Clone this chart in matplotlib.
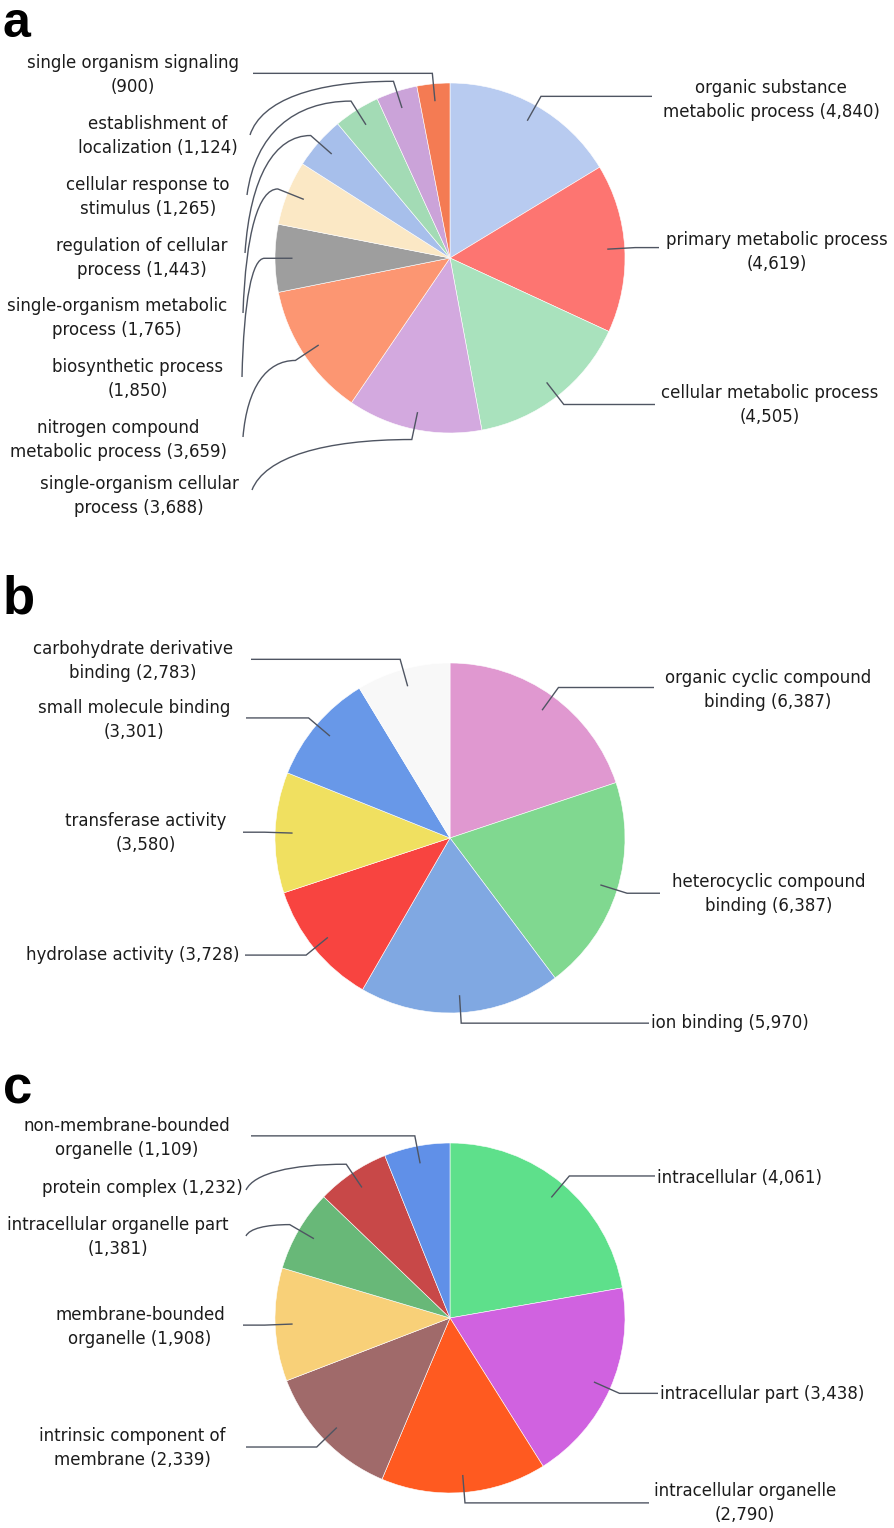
import numpy as np
import matplotlib.pyplot as plt
from matplotlib.path import Path
from matplotlib.patches import PathPatch

# --- data -------------------------------------------------------------
# a: biological process
bp_names = ["organic substance\nmetabolic process", "primary metabolic process\n",
            "cellular metabolic process\n", "single-organism cellular\nprocess",
            "nitrogen compound\nmetabolic process", "biosynthetic process\n",
            "single-organism metabolic\nprocess", "regulation of cellular\nprocess",
            "cellular response to\nstimulus", "establishment of\nlocalization",
            "single organism signaling\n"]
bp_counts = [4840, 4619, 4505, 3688, 3659, 1850, 1765, 1443, 1265, 1124, 900]

# b: molecular function
mf_names = ["organic cyclic compound\nbinding", "heterocyclic compound\nbinding",
            "ion binding", "hydrolase activity", "transferase activity\n",
            "small molecule binding\n", "carbohydrate derivative\nbinding"]
mf_counts = [6387, 6387, 5970, 3728, 3580, 3301, 2783]

# c: cellular component
cc_names = ["intracellular", "intracellular part", "intracellular organelle\n",
            "intrinsic component of\nmembrane", "membrane-bounded\norganelle",
            "intracellular organelle part\n", "protein complex",
            "non-membrane-bounded\norganelle"]
cc_counts = [4061, 3438, 2790, 2339, 1908, 1381, 1232, 1109]

# --- styles / layout --------------------------------------------------
bp_colors = ["#b8cbf0", "#fd7571", "#a9e2bd", "#d3a9df", "#fc9672", "#9e9e9e",
             "#fbe8c5", "#a7bfeb", "#a3dbb5", "#cba3d9", "#f47b53"]
mf_colors = ["#e098d0", "#80d890", "#80a8e2", "#f84440", "#f0e060", "#6898e8", "#f8f8f8"]
cc_colors = ["#5ee08b", "#d062e0", "#ff5a20", "#a06a6a", "#f8d078", "#68b878",
             "#c84848", "#6090e8"]

# text (x, y, ha), leader end (x, y); y=None means a straight elbow line
bp_text = [(771, 100, "center"), (777, 252, "center"), (770, 405, "center"),
           (139, 496, "center"), (118, 440, "center"), (138, 379, "center"),
           (117, 318, "center"), (142, 258, "center"), (148, 197, "center"),
           (158, 136, "center"), (133, 75, "center")]
bp_end = [(652, None), (659, None), (655, None), (252, 490), (243, 437), (242, 377),
          (243, 313), (245, 253), (247, 195), (250, 135), (253, None)]

mf_text = [(768, 690, "center"), (769, 894, "center"), (651, 1023, "left"),
           (240, 955, "right"), (146, 833, "center"), (134, 720, "center"),
           (133, 661, "center")]
mf_end = [(654, None), (660, None), (649, None), (245, None), (243, None),
          (246, None), (251, None)]

cc_text = [(657, 1178, "left"), (660, 1394, "left"), (745, 1503, "center"),
           (132, 1448, "center"), (140, 1327, "center"), (118, 1237, "center"),
           (243, 1188, "right"), (127, 1138, "center")]
cc_end = [(655, None), (658, None), (649, None), (246, None), (243, None),
          (246, 1236), (246, 1190), (251, None)]

W, H = 894, 1528
R = 175
LINE = "#4f5562"

fig = plt.figure(figsize=(W / 100, H / 100), dpi=100)
ax = fig.add_axes([0, 0, 1, 1])


def draw_panel(center, names, counts, colors, texts, ends):
    cx, cy = center
    ax.pie(counts, colors=colors, startangle=-90, counterclock=True,
           center=center, radius=R, wedgeprops=dict(edgecolor="white", linewidth=0.4))
    frac = np.array(counts, float) / np.sum(counts)
    mids = np.cumsum(frac) - frac / 2
    for name, c, m, (tx, ty, ha), (ex, ey) in zip(names, counts, mids, texts, ends):
        phi = np.deg2rad(-90 + 360 * m)
        ax_, ay_ = cx + 0.9 * R * np.cos(phi), cy + 0.9 * R * np.sin(phi)
        bx, by = cx + 1.06 * R * np.cos(phi), cy + 1.06 * R * np.sin(phi)
        if ey is None:
            verts = [(ax_, ay_), (bx, by), (ex, by)]
            codes = [Path.MOVETO, Path.LINETO, Path.LINETO]
        else:
            dx, dy = bx - ex, ey - by
            verts = [(ax_, ay_), (bx, by), (bx - 0.55 * dx, by),
                     (ex + 0.08 * dx, by + 0.35 * dy), (ex, ey)]
            codes = [Path.MOVETO, Path.LINETO, Path.CURVE4, Path.CURVE4, Path.CURVE4]
        ax.add_patch(PathPatch(Path(verts, codes), fill=False, edgecolor=LINE, lw=1.0))
        sep = "" if name.endswith("\n") else " "
        ax.text(tx, ty, f"{name}{sep}({c:,})", ha=ha, va="center", multialignment="center",
                fontsize=12, linespacing=1.45, color="#1c1c1c", family="DejaVu Sans")


draw_panel((450, 258), bp_names, bp_counts, bp_colors, bp_text, bp_end)
draw_panel((450, 838), mf_names, mf_counts, mf_colors, mf_text, mf_end)
draw_panel((450, 1318), cc_names, cc_counts, cc_colors, cc_text, cc_end)

for letter, y, size in [("a", 37, 36), ("b", 613, 38), ("c", 1103, 38)]:
    ax.text(3, y, letter, ha="left", va="baseline", fontsize=size, fontweight="bold",
            family="Liberation Sans", color="black")

ax.set_xlim(0, W)
ax.set_ylim(H, 0)
ax.set_aspect("auto")
ax.axis("off")

fig.savefig("out.png", dpi=100, facecolor="white")
